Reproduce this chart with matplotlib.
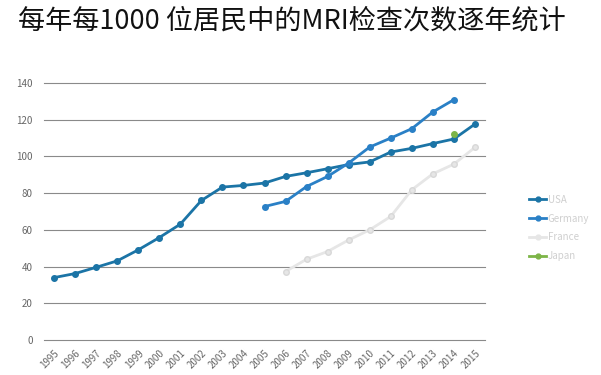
import matplotlib
matplotlib.use("Agg")
import matplotlib.pyplot as plt
from matplotlib.lines import Line2D

plt.rcParams['font.family'] = ['Noto Sans CJK SC', 'DejaVu Sans']

years = list(range(1995, 2016))
usa_years = list(range(1995, 2016))
usa = [34, 36.2, 39.6, 43.1, 49.1, 55.8, 63.1, 76, 83.3, 84.2, 85.5, 89.1, 91.1, 93.3,
       95.6, 97, 102.4, 104.4, 107, 109.5, 117.6]
germany_years = list(range(2005, 2015))
germany = [72.7, 75.5, 83.6, 89.1, 96.4, 105.1, 110, 115.1, 124.2, 130.9]
france_years = list(range(2006, 2016))
france = [37.3, 44, 48.2, 54.5, 60, 67.3, 81.8, 90.5, 95.8, 104.9]
japan_years = [2014]
japan = [112.4]
yticks = [0, 20, 40, 60, 80, 100, 120, 140]

title = "每年每1000 位居民中的MRI检查次数逐年统计"

c_usa = "#1b74a6"
c_ger = "#2a80c6"
c_fra = "#e6e6e6"
c_jap = "#7db548"

fig = plt.figure(figsize=(6.01, 3.75), dpi=100)
ax = fig.add_axes([44/601, 1-340/375, (485-44)/601, (340-83)/375])

for ys in yticks:
    ax.axhline(ys, color="#8a8a8a", lw=0.8, zorder=0, clip_on=False)

kw = dict(lw=2.0, marker="o", ms=4)
ax.plot(france_years, france, color=c_fra, mec="#d8d8d8", **kw, zorder=2)
ax.plot(usa_years, usa, color=c_usa, **kw, zorder=3)
ax.plot(germany_years, germany, color=c_ger, **kw, zorder=3)
ax.plot(japan_years, japan, color=c_jap, **kw, zorder=4)

ax.set_xlim(1994.52, 2015.48)
ax.set_ylim(0, 140)
ax.set_yticks(yticks)
ax.set_yticklabels([str(v) for v in yticks])
ax.set_xticks(years)
ax.set_xticklabels([str(y) for y in years], rotation=45, ha="right", rotation_mode="anchor")
ax.tick_params(axis="both", length=0, labelsize=7, labelcolor="#666666")
ax.tick_params(axis="y", pad=8)
ax.tick_params(axis="x", pad=6)
for s in ax.spines.values():
    s.set_visible(False)

handles = [Line2D([], [], color=c, lw=2.0, marker="o", ms=3.5) for c in (c_usa, c_ger, c_fra, c_jap)]
fig.legend(handles, ["USA", "Germany", "France", "Japan"], loc="center left",
           bbox_to_anchor=(520/601, 1-228/375), frameon=False, fontsize=7,
           labelcolor="#cfcfcf", handlelength=1.8, handletextpad=0.15, labelspacing=0.9)

fig.text(18/601, 1-21/375, title, fontsize=19.5, va="center", ha="left", color="#111111")

fig.savefig("out.png", dpi=100)
